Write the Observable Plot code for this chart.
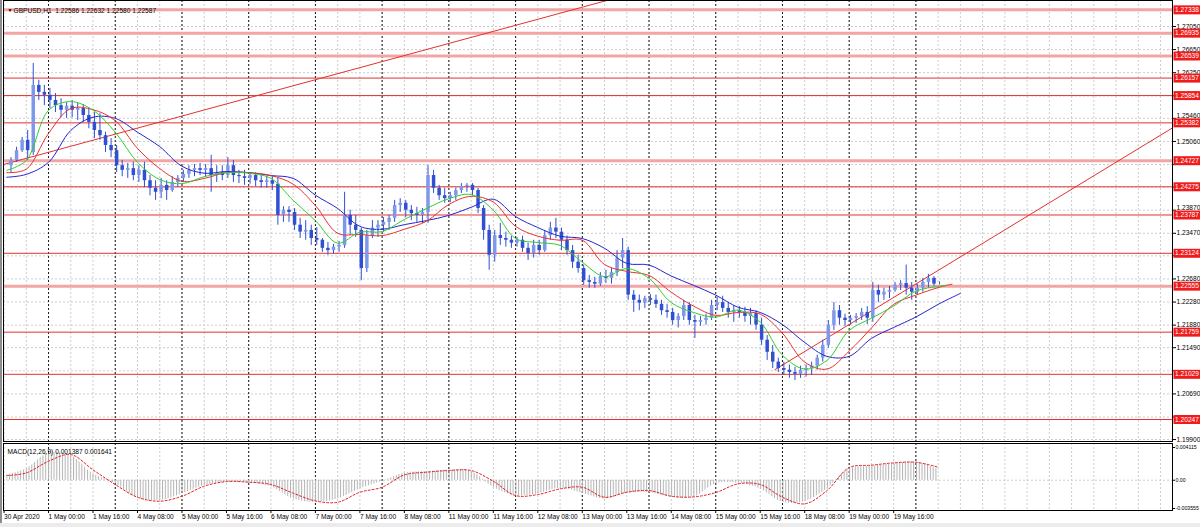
<!DOCTYPE html>
<html><head><meta charset="utf-8">
<script src="https://cdn.jsdelivr.net/npm/d3@7"></script>
<script src="https://cdn.jsdelivr.net/npm/@observablehq/plot@0.6"></script>
<style>
html,body{margin:0;padding:0;background:#fff;overflow:hidden}
#wrap{position:relative;width:1200px;height:527px;background:#fff;font-family:"Liberation Sans",Arial,sans-serif}
#wrap svg{display:block}
#status{position:absolute;left:0;top:523px;width:1200px;height:4px;background:#ececec}
#lb{position:absolute;left:0;top:0;width:2px;height:523px;background:#8c8c8c}
</style></head><body>
<div id="wrap"><div id="main"></div><div id="macd"></div><div id="status"></div><div id="lb"></div></div>
<script>
// ---------- DATA ----------
const chartTitle = "GBPUSD,H1  1.22586 1.22632 1.22580 1.22587";
const macdTitle = "MACD(12,26,9) 0.001387 0.001641";
// 2-hour candles; first candle starts 30 Apr 10:00 (hour -14 relative to 1 May 00:00)
const firstCandleHour = -14;
const candleOpen = [
1.2464,1.2473,1.2490,1.2508,1.2487,1.2603,1.2591,1.2586,1.2577,1.2568,
1.2560,1.2567,1.2560,1.2563,1.2551,1.2539,1.2525,1.2516,1.2499,1.2490,
1.2464,1.2456,1.2459,1.2447,1.2456,1.2438,1.2425,1.2418,1.2430,1.2421,
1.2435,1.2442,1.2449,1.2456,1.2459,1.2456,1.2459,1.2447,1.2452,1.2447,
1.2464,1.2447,1.2445,1.2442,1.2447,1.2438,1.2435,1.2438,1.2432,1.2378,
1.2387,1.2383,1.2361,1.2349,1.2352,1.2338,1.2335,1.2321,1.2317,1.2323,
1.2326,1.2378,1.2361,1.2352,1.2286,1.2343,1.2356,1.2361,1.2366,1.2373,
1.2395,1.2399,1.2387,1.2381,1.2378,1.2383,1.2447,1.2425,1.2412,1.2407,
1.2412,1.2421,1.2428,1.2430,1.2421,1.2390,1.2352,1.2309,1.2343,1.2338,
1.2335,1.2330,1.2335,1.2321,1.2312,1.2326,1.2317,1.2343,1.2356,1.2349,
1.2335,1.2317,1.2297,1.2286,1.2265,1.2262,1.2259,1.2272,1.2269,1.2279,
1.2304,1.2317,1.2240,1.2231,1.2226,1.2234,1.2231,1.2224,1.2213,1.2210,
1.2196,1.2203,1.2222,1.2196,1.2193,1.2196,1.2200,1.2222,1.2227,1.2217,
1.2210,1.2213,1.2210,1.2203,1.2208,1.2188,1.2162,1.2141,1.2124,1.2113,
1.2110,1.2106,1.2103,1.2110,1.2113,1.2117,1.2131,1.2153,1.2188,1.2213,
1.2200,1.2196,1.2200,1.2203,1.2210,1.2200,1.2248,1.2240,1.2245,1.2248,
1.2257,1.2260,1.2252,1.2245,1.2252,1.2262,1.2269,1.2259];
const candleHigh = [
1.2478,1.2496,1.2513,1.2525,1.2641,1.2612,1.2603,1.2598,1.2589,1.2580,
1.2573,1.2577,1.2572,1.2570,1.2563,1.2556,1.2554,1.2522,1.2511,1.2499,
1.2473,1.2468,1.2470,1.2464,1.2470,1.2447,1.2438,1.2442,1.2438,1.2445,
1.2447,1.2456,1.2464,1.2466,1.2468,1.2466,1.2482,1.2464,1.2464,1.2478,
1.2473,1.2456,1.2456,1.2452,1.2452,1.2447,1.2445,1.2445,1.2442,1.2393,
1.2393,1.2390,1.2373,1.2369,1.2361,1.2357,1.2338,1.2331,1.2328,1.2333,
1.2418,1.2387,1.2378,1.2356,1.2352,1.2369,1.2369,1.2374,1.2378,1.2404,
1.2407,1.2404,1.2395,1.2392,1.2390,1.2464,1.2456,1.2430,1.2425,1.2418,
1.2425,1.2433,1.2433,1.2433,1.2425,1.2395,1.2361,1.2352,1.2364,1.2349,
1.2342,1.2340,1.2342,1.2330,1.2335,1.2335,1.2352,1.2366,1.2373,1.2356,
1.2342,1.2326,1.2309,1.2292,1.2274,1.2271,1.2279,1.2283,1.2286,1.2317,
1.2338,1.2323,1.2248,1.2240,1.2238,1.2241,1.2240,1.2231,1.2224,1.2217,
1.2208,1.2231,1.2227,1.2205,1.2203,1.2207,1.2231,1.2236,1.2238,1.2226,
1.2222,1.2220,1.2219,1.2217,1.2213,1.2200,1.2170,1.2153,1.2131,1.2124,
1.2119,1.2115,1.2117,1.2119,1.2124,1.2136,1.2162,1.2196,1.2227,1.2222,
1.2207,1.2205,1.2208,1.2217,1.2220,1.2262,1.2257,1.2252,1.2255,1.2262,
1.2265,1.2292,1.2262,1.2259,1.2269,1.2276,1.2272,1.2263];
const candleLow = [
1.2452,1.2470,1.2487,1.2473,1.2482,1.2577,1.2568,1.2563,1.2556,1.2547,
1.2546,1.2547,1.2542,1.2539,1.2528,1.2511,1.2508,1.2487,1.2478,1.2452,
1.2445,1.2442,1.2438,1.2435,1.2426,1.2412,1.2404,1.2407,1.2404,1.2418,
1.2426,1.2435,1.2442,1.2445,1.2447,1.2445,1.2418,1.2435,1.2438,1.2442,
1.2435,1.2433,1.2430,1.2432,1.2428,1.2425,1.2425,1.2421,1.2361,1.2366,
1.2366,1.2352,1.2338,1.2335,1.2326,1.2326,1.2314,1.2309,1.2311,1.2314,
1.2321,1.2343,1.2340,1.2265,1.2279,1.2338,1.2340,1.2349,1.2352,1.2366,
1.2383,1.2374,1.2369,1.2366,1.2364,1.2364,1.2416,1.2404,1.2399,1.2400,
1.2404,1.2416,1.2418,1.2412,1.2381,1.2335,1.2283,1.2297,1.2326,1.2323,
1.2321,1.2323,1.2314,1.2300,1.2304,1.2309,1.2314,1.2335,1.2338,1.2317,
1.2309,1.2286,1.2278,1.2257,1.2252,1.2252,1.2255,1.2260,1.2259,1.2272,
1.2286,1.2231,1.2210,1.2213,1.2217,1.2222,1.2217,1.2205,1.2200,1.2188,
1.2183,1.2196,1.2188,1.2165,1.2186,1.2188,1.2196,1.2213,1.2210,1.2200,
1.2193,1.2200,1.2193,1.2188,1.2179,1.2153,1.2127,1.2113,1.2106,1.2101,
1.2096,1.2092,1.2096,1.2098,1.2101,1.2110,1.2124,1.2148,1.2179,1.2188,
1.2186,1.2188,1.2191,1.2196,1.2189,1.2193,1.2227,1.2231,1.2234,1.2245,
1.2248,1.2240,1.2231,1.2241,1.2245,1.2252,1.2255,1.2258];
const candleClose = [
1.2473,1.2490,1.2508,1.2490,1.2603,1.2591,1.2586,1.2577,1.2568,1.2560,
1.2567,1.2560,1.2563,1.2551,1.2539,1.2525,1.2516,1.2499,1.2490,1.2464,
1.2456,1.2459,1.2447,1.2456,1.2438,1.2425,1.2418,1.2430,1.2421,1.2435,
1.2442,1.2449,1.2456,1.2459,1.2456,1.2459,1.2447,1.2452,1.2447,1.2464,
1.2447,1.2445,1.2442,1.2447,1.2438,1.2435,1.2438,1.2432,1.2378,1.2387,
1.2383,1.2361,1.2349,1.2352,1.2338,1.2335,1.2321,1.2317,1.2323,1.2326,
1.2378,1.2361,1.2352,1.2286,1.2343,1.2356,1.2361,1.2366,1.2373,1.2395,
1.2399,1.2387,1.2381,1.2378,1.2383,1.2447,1.2425,1.2412,1.2407,1.2412,
1.2421,1.2428,1.2430,1.2421,1.2390,1.2352,1.2309,1.2343,1.2338,1.2335,
1.2330,1.2335,1.2321,1.2312,1.2326,1.2317,1.2343,1.2356,1.2349,1.2335,
1.2317,1.2297,1.2286,1.2265,1.2262,1.2259,1.2272,1.2269,1.2279,1.2304,
1.2317,1.2240,1.2231,1.2226,1.2234,1.2231,1.2224,1.2213,1.2210,1.2196,
1.2203,1.2222,1.2196,1.2193,1.2196,1.2200,1.2222,1.2227,1.2217,1.2210,
1.2213,1.2210,1.2203,1.2208,1.2188,1.2162,1.2141,1.2124,1.2113,1.2110,
1.2106,1.2103,1.2110,1.2113,1.2117,1.2131,1.2153,1.2188,1.2213,1.2200,
1.2196,1.2200,1.2203,1.2210,1.2200,1.2248,1.2240,1.2245,1.2248,1.2257,
1.2260,1.2252,1.2245,1.2252,1.2262,1.2269,1.2259,1.2259];

// Alligator-style moving averages, sampled (hour index, price)
const maHours = [-15,-8,0,8,16,24,32,40,48,56,64,72,80,88,96,104,112,120,128,136,144,152,160,168,176,184,192,200,208,216,224,232,240,248,256,264,272,280,288,296,304,312,320];
const lipsEndHour = 323, teethEndHour = 325, jawEndHour = 328;
const lipsGreen = [1.2456,1.2473,1.2560,1.2575,1.2560,1.2522,1.2470,1.2440,1.2433,1.2445,1.2452,1.2451,1.2442,1.2404,1.2369,1.2330,1.2349,1.2350,1.2371,1.2390,1.2407,1.2414,1.2387,1.2338,1.2331,1.2326,1.2297,1.2272,1.2286,1.2269,1.2227,1.2210,1.2202,1.2214,1.2193,1.2136,1.2112,1.2127,1.2179,1.2200,1.2221,1.2247,1.2255,1.2257];
const teethRed = [1.2452,1.2458,1.2520,1.2563,1.2561,1.2542,1.2494,1.2459,1.2437,1.2442,1.2452,1.2452,1.2447,1.2432,1.2395,1.2347,1.2345,1.2343,1.2354,1.2368,1.2397,1.2411,1.2401,1.2359,1.2342,1.2335,1.2335,1.2293,1.2281,1.2274,1.2245,1.2221,1.2205,1.2210,1.2207,1.2174,1.2124,1.2112,1.2143,1.2183,1.2224,1.2240,1.2253,1.2259];
const jawBlue = [1.2444,1.2449,1.2470,1.2525,1.2548,1.2546,1.2522,1.2497,1.2463,1.2451,1.2454,1.2452,1.2447,1.2442,1.2413,1.2390,1.2359,1.2354,1.2362,1.2369,1.2378,1.2392,1.2406,1.2376,1.2357,1.2342,1.2338,1.2321,1.2295,1.2292,1.2273,1.2257,1.2240,1.2219,1.2210,1.2189,1.2158,1.2134,1.2134,1.2165,1.2184,1.2202,1.2224,1.2243];

// MACD (sampled at maHours)
const macdMain = [0.00067,0.00142,0.00339,0.00310,0.00080,-0.00038,-0.00222,-0.00256,-0.00172,-0.00067,-0.00025,-0.00034,-0.00080,-0.00235,-0.00277,-0.00235,-0.00109,-0.00013,0.00088,0.00109,0.00130,0.00113,-0.00088,-0.00193,-0.00172,-0.00101,-0.00163,-0.00235,-0.00163,-0.00155,-0.00214,-0.00214,-0.00046,-0.00034,-0.00109,-0.00277,-0.00268,-0.00109,0.00142,0.00176,0.00205,0.00226,0.001387];
const macdSignal = [0.00059,0.00092,0.00239,0.00323,0.00130,-0.00054,-0.00214,-0.00264,-0.00201,-0.00075,-0.00017,-0.00025,-0.00054,-0.00163,-0.00260,-0.00277,-0.00151,-0.00088,0.00067,0.00101,0.00122,0.00122,-0.00013,-0.00193,-0.00180,-0.00109,-0.00088,-0.00214,-0.00151,-0.00130,-0.00201,-0.00210,-0.00155,-0.00046,-0.00054,-0.00214,-0.00297,-0.00130,0.00159,0.00189,0.00218,0.00226,0.001641];

// Horizontal levels
const levelsBold = [1.27338,1.26935,1.26539,1.24727,1.22555];
const levelsThin = [1.26157,1.25854,1.25382,1.24275,1.23787,1.23124,1.21759,1.21029,1.20247];
// Trend lines (hour index, price)
const trendUpperHours = [-17, 210], trendUpperPrices = [1.2465, 1.2762];
const trendLowerHours = [261.3, 404.5], trendLowerPrices = [1.2111, 1.2530];

// Axes
const yTicks = [1.19900,1.20290,1.20690,1.21090,1.21490,1.21880,1.22280,1.22680,1.23080,1.23470,1.23870,1.24270,1.24660,1.25060,1.25460,1.25850,1.26250,1.26650,1.27050];
const macdTicks = [0.004115, 0, -0.003555];
const macdTickLabels = ["0.004115","0.00","-0.003555"];
const xLabelHours = [-16,0,16,32,48,64,80,96,112,128,144,160,176,192,208,224,240,256,272,288,304];
const xLabels = ["30 Apr 2020","1 May 00:00","1 May 16:00","4 May 08:00","5 May 00:00","5 May 16:00","6 May 08:00","7 May 00:00","7 May 16:00","8 May 08:00","11 May 00:00","11 May 16:00","12 May 08:00","13 May 00:00","13 May 16:00","14 May 08:00","15 May 00:00","15 May 16:00","18 May 08:00","19 May 00:00","19 May 16:00"];
const dayStarts = [0,24,48,72,96,120,144,168,192,216,240,264,288,312];

// ---------- BUILD ----------
const FONT = "'Liberation Sans', Arial, sans-serif";
const FS = 6.6;
const X_DOMAIN = [-16.2, 404.3];
const gridHours = d3.range(-16, 404, 8);

const candles = candleOpen.map((o, i) => ({
  h: firstCandleHour + 2 * i + 0.5, open: o, high: candleHigh[i], low: candleLow[i], close: candleClose[i]
}));
const bull = candles.filter(d => d.close >= d.open);
const bear = candles.filter(d => d.close < d.open);
const mkLine = (hours, vals) => hours.map((h, i) => ({h, p: vals[i]}));
const lips = mkLine(maHours.concat([lipsEndHour]), lipsGreen);
const teeth = mkLine(maHours.concat([teethEndHour]), teethRed);
const jaw = mkLine(maHours.concat([jawEndHour]), jawBlue);
const trendUpper = mkLine(trendUpperHours, trendUpperPrices);
const trendLower = mkLine(trendLowerHours, trendLowerPrices);
const macd = maHours.map((h, i) => ({h, main: macdMain[i], signal: macdSignal[i]}));
const allLevels = levelsBold.concat(levelsThin);
const labelMap = new Map(xLabelHours.map((h, i) => [h, xLabels[i]]));
const macdLabelMap = new Map(macdTicks.map((v, i) => [v, macdTickLabels[i]]));
// tick labels hidden under a level's price box are not written; near ones are nudged clear of the box
const nearestLevelGap = t => allLevels.reduce((g, l) => Math.abs(l - t) < Math.abs(g) ? t - l : g, Infinity);
const yTickLabels = yTicks.filter(t => Math.abs(nearestLevelGap(t)) >= 0.0007);
const labelsFree = yTickLabels.filter(t => Math.abs(nearestLevelGap(t)) >= 0.00086);
const labelsAbove = yTickLabels.filter(t => Math.abs(nearestLevelGap(t)) < 0.00086 && nearestLevelGap(t) > 0);
const labelsBelow = yTickLabels.filter(t => Math.abs(nearestLevelGap(t)) < 0.00086 && nearestLevelGap(t) < 0);

const boxSymbol = {draw(ctx) { ctx.moveTo(-13.5, -4.5); ctx.lineTo(13.5, -4.5); ctx.lineTo(13.5, 4.5); ctx.lineTo(-13.5, 4.5); ctx.closePath(); }};

const GRID = {stroke: "#cdcdcd", strokeDasharray: "2,2", strokeWidth: 1};
const SEP = {stroke: "#1a1a1a", strokeDasharray: "2,2", strokeWidth: 1};
const WICK = "#2f50d0";
const TICKLAB = {anchor: "right", label: null, tickFormat: d3.format(".5f"), tickSize: 0, tickPadding: 4, fontSize: FS, textAnchor: "start"};

const mainPlot = Plot.plot({
  width: 1200, height: 443,
  marginLeft: 3, marginRight: 28, marginTop: 0, marginBottom: 2,
  x: {domain: X_DOMAIN, axis: null},
  y: {domain: [1.19866, 1.2750], axis: null},
  style: {fontFamily: FONT, fontSize: FS + "px", background: "transparent", color: "#000", overflow: "visible"},
  marks: [
    Plot.ruleY(yTicks, GRID),
    Plot.ruleX(gridHours, GRID),
    Plot.ruleX(dayStarts, SEP),
    Plot.ruleY(levelsBold, {stroke: "#f3a5a5", strokeWidth: 3}),
    Plot.ruleY(levelsThin, {stroke: "#e3312f", strokeWidth: 1}),
    Plot.line(trendUpper, {x: "h", y: "p", stroke: "#e3312f", strokeWidth: 1, clip: true}),
    Plot.line(trendLower, {x: "h", y: "p", stroke: "#e3312f", strokeWidth: 1, clip: true}),
    Plot.ruleX(candles, {x: "h", y1: "low", y2: "high", stroke: WICK, strokeWidth: 1}),
    Plot.ruleX(bear, {x: "h", y1: "open", y2: "close", stroke: WICK, strokeWidth: 3.5}),
    Plot.ruleX(bull, {x: "h", y1: "open", y2: "close", stroke: "#7f98ea", strokeWidth: 3.5}),
    Plot.line(jaw, {x: "h", y: "p", stroke: "#2525d0", strokeWidth: 1, curve: "catmull-rom"}),
    Plot.line(teeth, {x: "h", y: "p", stroke: "#e8322e", strokeWidth: 1, curve: "catmull-rom"}),
    Plot.line(lips, {x: "h", y: "p", stroke: "#33cc33", strokeWidth: 1, curve: "catmull-rom"}),
    Plot.frame({stroke: "#000"}),
    Plot.axisY(yTicks, {anchor: "right", label: null, tickFormat: () => "", tickSize: 3}),
    Plot.axisY(labelsFree, TICKLAB),
    Plot.axisY(labelsAbove, {...TICKLAB, dy: -2.5}),
    Plot.axisY(labelsBelow, {...TICKLAB, dy: 2.5}),
    Plot.dot(allLevels, {y: d => d, frameAnchor: "right", dx: 14.5, symbol: boxSymbol, fill: "#f01c1c", stroke: "none", r: 4}),
    Plot.text(allLevels, {y: d => d, frameAnchor: "right", dx: 14.5, text: d => d.toFixed(5), fill: "#fff", textAnchor: "middle", fontSize: FS}),
    Plot.text(["▼"], {frameAnchor: "top-left", dx: 4, dy: 8, fontSize: 5, fill: "#000", textAnchor: "start"}),
    Plot.text([chartTitle], {frameAnchor: "top-left", dx: 10, dy: 8, fontSize: FS, fill: "#000", textAnchor: "start"})
  ]
});
document.getElementById("main").appendChild(mainPlot);

const macdPlot = Plot.plot({
  width: 1200, height: 80,
  marginLeft: 3, marginRight: 28, marginTop: 0, marginBottom: 13,
  x: {domain: X_DOMAIN, axis: null},
  y: {domain: [-0.003806, 0.004618], axis: null},
  style: {fontFamily: FONT, fontSize: FS + "px", background: "transparent", color: "#000", overflow: "visible"},
  marks: [
    Plot.ruleX(gridHours, GRID),
    Plot.ruleX(dayStarts, SEP),
    Plot.ruleY([0], GRID),
    Plot.areaY(macd, {x: "h", y: "main", fill: "url(#histPat)", curve: "catmull-rom"}),
    Plot.line(macd, {x: "h", y: "signal", stroke: "#e02020", strokeWidth: 1, strokeDasharray: "2,2", curve: "catmull-rom"}),
    Plot.frame({stroke: "#000"}),
    Plot.axisY(macdTicks, {anchor: "right", label: null, tickFormat: v => macdLabelMap.get(v), tickSize: 2, tickPadding: 1, fontSize: 5.2, textAnchor: "start"}),
    Plot.axisX(xLabelHours, {anchor: "bottom", label: null, tickFormat: h => labelMap.get(h), tickSize: 3, tickPadding: 1, fontSize: FS, textAnchor: "start"}),
    Plot.text([macdTitle], {frameAnchor: "top-left", dx: 4, dy: 6, fontSize: FS, fill: "#000", textAnchor: "start"})
  ]
});
d3.select(macdPlot).insert("defs", ":first-child")
  .html('<pattern id="histPat" patternUnits="userSpaceOnUse" x="0.7" y="0" width="2.782" height="10"><rect x="0" y="0" width="1" height="10" fill="#b2b2b2"/></pattern>');
document.getElementById("macd").appendChild(macdPlot);
</script>
</body></html>
